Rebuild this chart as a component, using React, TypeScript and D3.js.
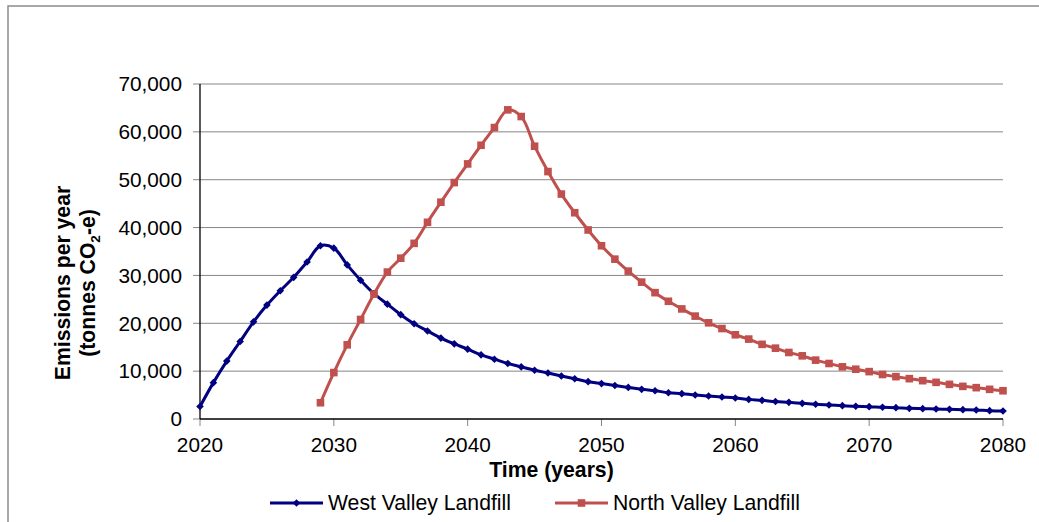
import React from "react";
import * as d3 from "d3";

const westStartYear = 2020;
const westValues = [
  2600, 7600, 12100, 16200, 20300, 23800, 26800, 29600, 32800, 36200,
  35700, 32200, 29000, 26200, 24000, 21800, 19900, 18400, 16900, 15700,
  14600, 13400, 12500, 11600, 10900, 10200, 9600, 9000, 8400, 7800,
  7400, 7000, 6600, 6200, 5900, 5500, 5300, 5000, 4800, 4600,
  4400, 4100, 3900, 3650, 3480, 3270, 3070, 2930, 2790, 2650,
  2580, 2440, 2370, 2230, 2160, 2090, 2020, 1950, 1880, 1740, 1670,
];

const northStartYear = 2029;
const northValues = [
  3400, 9700, 15500, 20800, 26100, 30700, 33600, 36700, 41100, 45300,
  49400, 53300, 57200, 60900, 64600, 63200, 57000, 51700, 47000, 43100,
  39500, 36200, 33400, 30900, 28600, 26400, 24600, 23000, 21500, 20100,
  18900, 17600, 16700, 15600, 14800, 13900, 13200, 12300, 11600, 10900,
  10400, 9900, 9300, 8850, 8430, 8010, 7660, 7240, 6820, 6550, 6200, 5900,
];

const xTicks = [2020, 2030, 2040, 2050, 2060, 2070, 2080];
const yTicks = [0, 10000, 20000, 30000, 40000, 50000, 60000, 70000];
const seriesNames = ["West Valley Landfill", "North Valley Landfill"];
const seriesColors = ["#000080", "#C0504D"];

const W = 1039;
const H = 522;
const left = 200;
const right = 1003;
const top = 84;
const bottom = 419;
const FONT = "'Liberation Sans', Arial, sans-serif";

export default function App() {
  const x = d3.scaleLinear().domain([2020, 2080]).range([left, right]);
  const y = d3.scaleLinear().domain([0, 70000]).range([bottom, top]);
  const fmt = d3.format(",");

  const west = westValues.map((v, i) => ({ yr: westStartYear + i, v }));
  const north = northValues.map((v, i) => ({ yr: northStartYear + i, v }));

  const line = d3
    .line<{ yr: number; v: number }>()
    .x((d) => x(d.yr))
    .y((d) => y(d.v))
    .curve(d3.curveCatmullRom.alpha(0.5));

  const diamond = (cx: number, cy: number, r: number) =>
    `M${cx},${cy - r}L${cx + r},${cy}L${cx},${cy + r}L${cx - r},${cy}Z`;

  return (
    <svg
      width={W}
      height={H}
      style={{ position: "absolute", left: 0, top: 0, background: "#fff" }}
      fontFamily={FONT}
    >
      <rect x={0} y={0} width={W} height={H} fill="#fff" />
      <rect x={8} y={6} width={1060} height={560} fill="none" stroke="#8c8c8c" strokeWidth={1.5} />

      {/* gridlines and y ticks */}
      {yTicks.map((t) => (
        <g key={t}>
          {t > 0 && (
            <line x1={left} x2={right} y1={y(t)} y2={y(t)} stroke="#868686" strokeWidth={1} />
          )}
          <line x1={left - 7} x2={left} y1={y(t)} y2={y(t)} stroke="#868686" strokeWidth={1} />
          <text x={182} y={y(t)} dy="0.35em" textAnchor="end" fontSize={20.8} fill="#000">
            {fmt(t)}
          </text>
        </g>
      ))}

      {/* x ticks */}
      {xTicks.map((t) => (
        <g key={t}>
          <line x1={x(t)} x2={x(t)} y1={bottom} y2={bottom + 7} stroke="#868686" strokeWidth={1} />
          <text x={x(t)} y={452} textAnchor="middle" fontSize={20.8} fill="#000">
            {t}
          </text>
        </g>
      ))}

      {/* axes */}
      <line x1={left} x2={left} y1={top} y2={bottom} stroke="#000" strokeWidth={1.3} />
      <line x1={left} x2={right} y1={bottom} y2={bottom} stroke="#000" strokeWidth={1.3} />

      {/* series */}
      <path d={line(west) || ""} fill="none" stroke={seriesColors[0]} strokeWidth={3} />
      {west.map((d) => (
        <path key={"w" + d.yr} d={diamond(x(d.yr), y(d.v), 3.8)} fill={seriesColors[0]} />
      ))}
      <path d={line(north) || ""} fill="none" stroke={seriesColors[1]} strokeWidth={3} />
      {north.map((d) => (
        <rect
          key={"n" + d.yr}
          x={x(d.yr) - 3.8}
          y={y(d.v) - 3.8}
          width={7.6}
          height={7.6}
          fill={seriesColors[1]}
        />
      ))}

      {/* axis titles */}
      <text x={551.5} y={477} textAnchor="middle" fontSize={21.2} fontWeight="bold" fill="#000">
        Time (years)
      </text>
      <g transform="translate(70,283) rotate(-90)">
        <text x={0} y={0} textAnchor="middle" fontSize={21.2} fontWeight="bold" fill="#000">
          Emissions  per year
        </text>
        <text x={0} y={25} textAnchor="middle" fontSize={21.2} fontWeight="bold" fill="#000">
          (tonnes CO
          <tspan fontSize={13.5} dy={5}>2</tspan>
          <tspan dy={-5}>-e)</tspan>
        </text>
      </g>

      {/* legend */}
      <g>
        <line x1={270} x2={323} y1={503} y2={503} stroke={seriesColors[0]} strokeWidth={3} />
        <path d={diamond(296.5, 503, 3.8)} fill={seriesColors[0]} />
        <text x={328} y={510} fontSize={21.2} fill="#000">
          {seriesNames[0]}
        </text>
        <line x1={555} x2={608} y1={503} y2={503} stroke={seriesColors[1]} strokeWidth={3} />
        <rect x={577.7} y={499.2} width={7.6} height={7.6} fill={seriesColors[1]} />
        <text x={613} y={510} fontSize={21.2} fill="#000">
          {seriesNames[1]}
        </text>
      </g>
    </svg>
  );
}
